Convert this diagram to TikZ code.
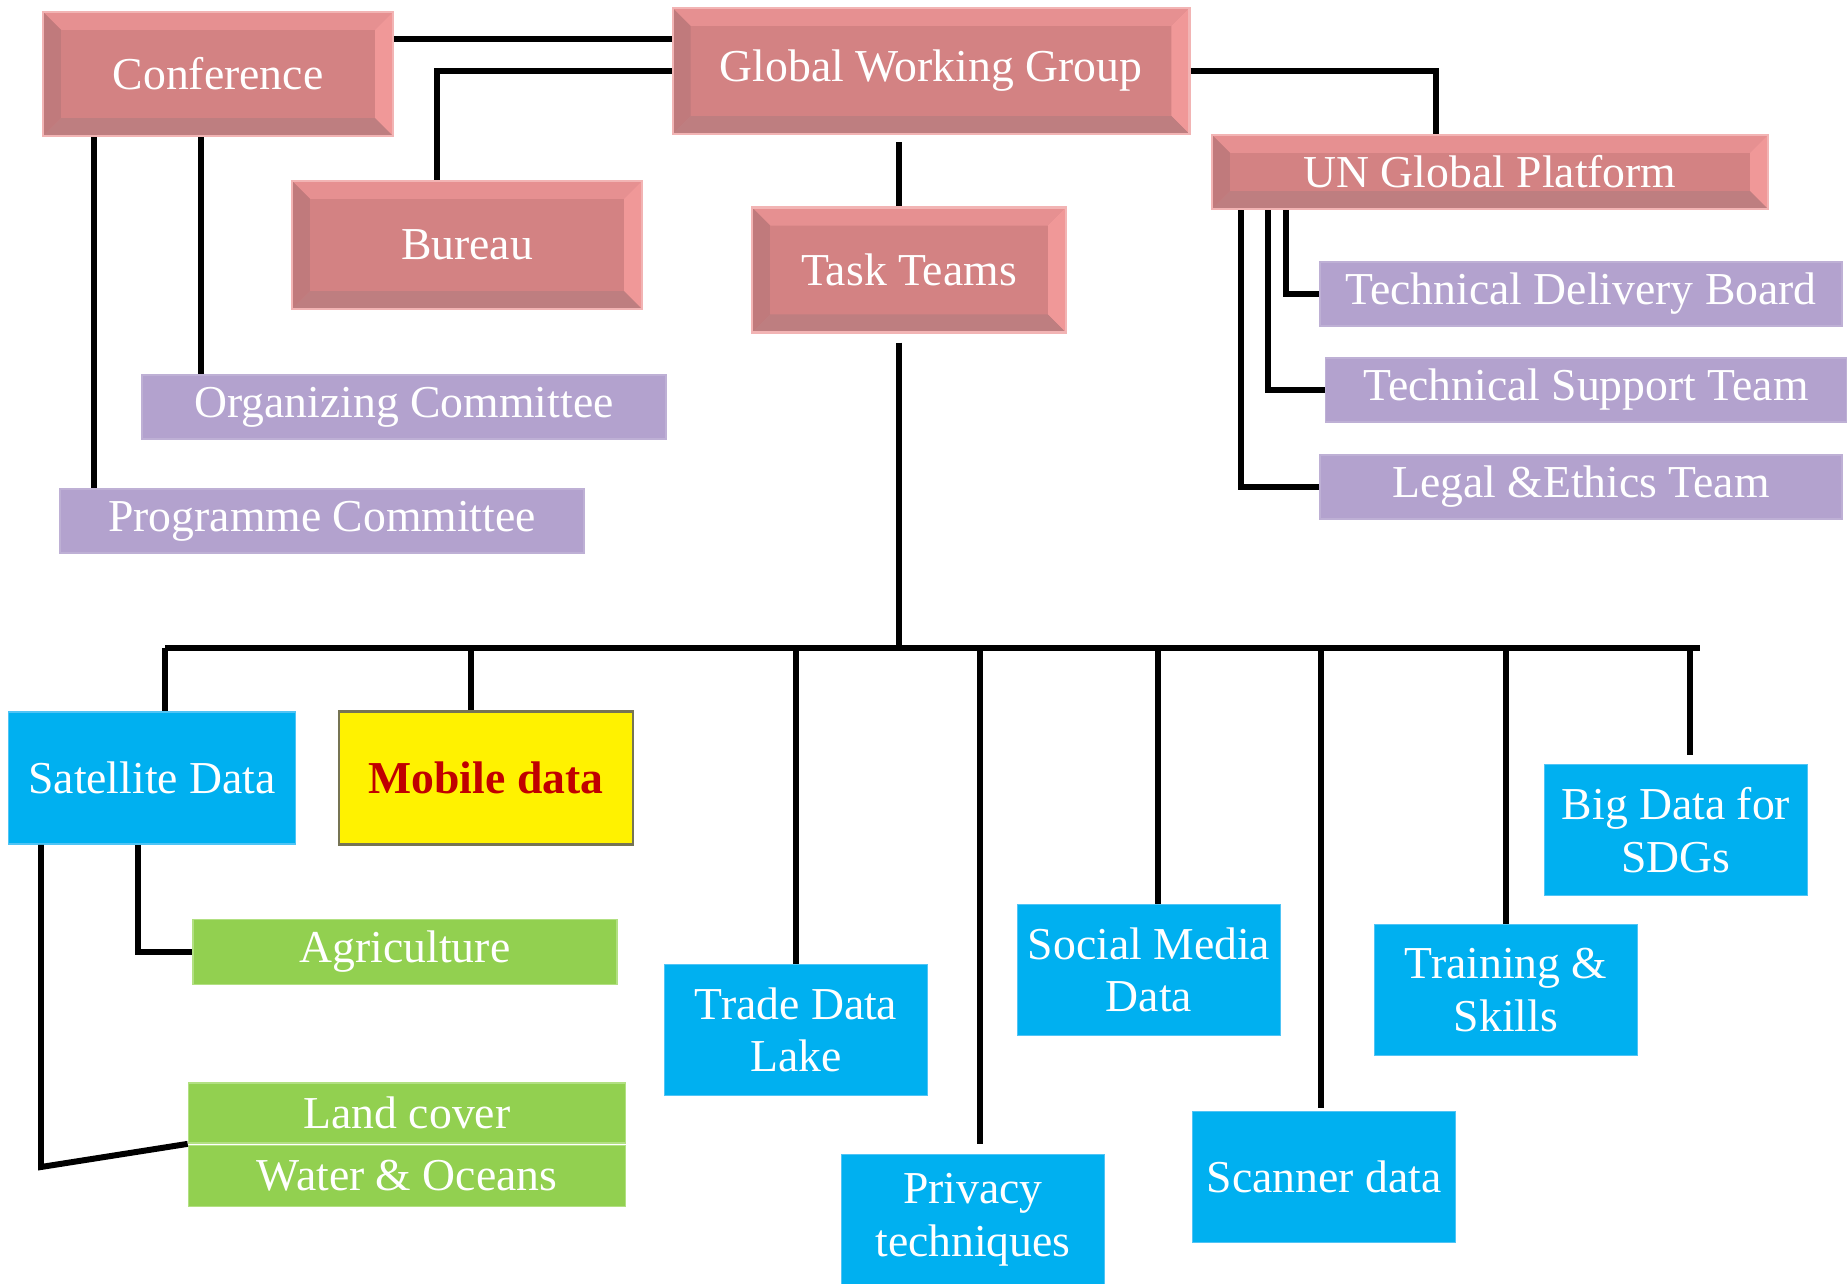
\documentclass[tikz,border=0pt]{standalone}
\usepackage{fontspec}
\setmainfont{Liberation Serif}
\definecolor{rosemid}{RGB}{211,130,131}
\definecolor{rosetop}{RGB}{230,144,145}
\definecolor{roseright}{RGB}{240,152,152}
\definecolor{roseleft}{RGB}{192,122,124}
\definecolor{rosebottom}{RGB}{190,126,128}
\definecolor{roseglow}{RGB}{242,180,180}
\definecolor{lilac}{RGB}{179,162,206}
\definecolor{skyblue}{RGB}{0,176,240}
\definecolor{skyedge}{RGB}{80,196,245}
\definecolor{leaf}{RGB}{146,208,80}
\definecolor{leafedge}{RGB}{178,224,130}
\definecolor{darkred}{RGB}{192,0,0}
\definecolor{olivegrey}{RGB}{118,116,84}
\newcommand{\bv}{0.36cm}
\begin{document}
\begin{tikzpicture}[x=0.02cm,y=-0.02cm,
	every node/.style={font=\fontsize{26}{30}\selectfont,text=white,align=center,inner sep=0pt},
	rosebox/.style={fill=rosemid,draw=roseglow,line width=1.2pt,path picture={
		\coordinate (nw) at (path picture bounding box.north west);
		\coordinate (ne) at (path picture bounding box.north east);
		\coordinate (sw) at (path picture bounding box.south west);
		\coordinate (se) at (path picture bounding box.south east);
		\fill[rosetop] (nw) -- (ne) -- ([shift={(-\bv,-\bv)}]ne) -- ([shift={(\bv,-\bv)}]nw) -- cycle;
		\fill[roseright] (ne) -- (se) -- ([shift={(-\bv,\bv)}]se) -- ([shift={(-\bv,-\bv)}]ne) -- cycle;
		\fill[roseleft] (nw) -- (sw) -- ([shift={(\bv,\bv)}]sw) -- ([shift={(\bv,-\bv)}]nw) -- cycle;
		\fill[rosebottom] (sw) -- (se) -- ([shift={(-\bv,\bv)}]se) -- ([shift={(\bv,\bv)}]sw) -- cycle;
		\fill[rosemid] ([shift={(\bv,-\bv)}]nw) rectangle ([shift={(-\bv,\bv)}]se);
	}},
	lilacbox/.style={fill=lilac,draw=lilac!85!white,line width=1pt,minimum height=1.28cm},
	skybox/.style={fill=skyblue,draw=skyedge,line width=1pt,minimum width=5.26cm,minimum height=2.62cm},
	leafbox/.style={fill=leaf,draw=leafedge,line width=1pt},
	link/.style={draw=black,line width=3.4pt}]

	\useasboundingbox (0,0) rectangle (1847,1284);

	\node[rosebox,minimum width=7cm,minimum height=2.48cm] (conf) at (218,74) {Conference};
	\node[rosebox,minimum width=10.34cm,minimum height=2.52cm] (gwg) at (931,71) {Global Working Group};
	\node[rosebox,minimum width=7cm,minimum height=2.56cm] (bureau) at (467,245) {Bureau};
	\node[rosebox,minimum width=6.28cm,minimum height=2.5cm] (tasks) at (909,270) {Task Teams};
	\node[rosebox,minimum width=11.12cm,minimum height=1.48cm] (ungp) at (1490,172) {UN Global Platform};

	\node[lilacbox,minimum width=10.44cm] (tdb) at (1581,294) {Technical Delivery Board};
	\node[lilacbox,minimum width=10.42cm] (tst) at (1586,390) {Technical Support Team};
	\node[lilacbox,minimum width=10.44cm] (legal) at (1581,487) {Legal \&Ethics Team};
	\node[lilacbox,minimum width=10.48cm] (orgc) at (404,407) {Organizing Committee};
	\node[lilacbox,minimum width=10.48cm] (progc) at (322,521) {Programme Committee};

	\node[skybox,minimum width=5.74cm,minimum height=2.64cm] (sat) at (152,778) {Satellite Data};
	\node[fill=yellow,draw=olivegrey,line width=1.5pt,minimum width=5.88cm,minimum height=2.66cm,text=darkred,font=\fontsize{26}{30}\selectfont\bfseries] (mobile) at (486,778) {Mobile data};
	\node[skybox] (trade) at (796,1030) {Trade Data\\Lake};
	\node[skybox] (privacy) at (973,1220) {Privacy\\techniques};
	\node[skybox] (social) at (1149,970) {Social Media\\Data};
	\node[skybox] (scanner) at (1324,1177) {Scanner data};
	\node[skybox] (training) at (1506,990) {Training \&\\Skills};
	\node[skybox] (bigdata) at (1676,830) {Big Data for\\SDGs};

	\node[leafbox,minimum width=8.48cm,minimum height=1.3cm] (agri) at (405,952) {Agriculture};
	\node[leafbox,minimum width=8.74cm,minimum height=1.2cm] (land) at (407,1113) {Land cover};
	\node[leafbox,minimum width=8.74cm,minimum height=1.22cm] (water) at (407,1176) {Water \& Oceans};

	\draw[link] (conf.east |- 0,39) -- (gwg.west |- 0,39);
	\draw[link] (gwg.west) -| (bureau.north -| 437,0);
	\draw[link] (gwg.east) -| (ungp.north -| 1436,0);
	\draw[link,shorten <=0.14cm] (gwg.south -| 899,0) -- (tasks.north -| 899,0);
	\draw[link] (conf.south -| 201,0) -- (orgc.north -| 201,0);
	\draw[link] (conf.south -| 94,0) -- (progc.north -| 94,0);

	\draw[link] (ungp.south -| 1286,0) |- (tdb.west);
	\draw[link] (ungp.south -| 1268,0) |- (tst.west);
	\draw[link] (ungp.south -| 1241,0) |- (legal.west);

	\coordinate (busL) at (165,648);
	\coordinate (busR) at (1700,648);
	\draw[link] (busL) -- (busR);
	\draw[link,shorten <=0.18cm] (tasks.south -| 899,0) -- (899,0 |- busL);
	\draw[link] (busL) -- (sat.north -| busL);
	\draw[link] (mobile.north -| 471,0) -- (471,0 |- busL);
	\draw[link] (trade.north) -- (trade.north |- busL);
	\draw[link,shorten <=0.2cm] (privacy.north -| 980,0) -- (980,0 |- busL);
	\draw[link] (social.north -| 1158,0) -- (1158,0 |- busL);
	\draw[link,shorten <=0.06cm] (scanner.north -| 1321,0) -- (1321,0 |- busL);
	\draw[link] (training.north) -- (training.north |- busL);
	\draw[link,shorten <=0.18cm] (bigdata.north -| 1690,0) -- (1690,0 |- busL);

	\draw[link] (sat.south -| 138,0) |- (agri.west);
	\draw[link] (sat.south -| 41,0) -- (41,1167) -- (land.south west);

\end{tikzpicture}
\end{document}
